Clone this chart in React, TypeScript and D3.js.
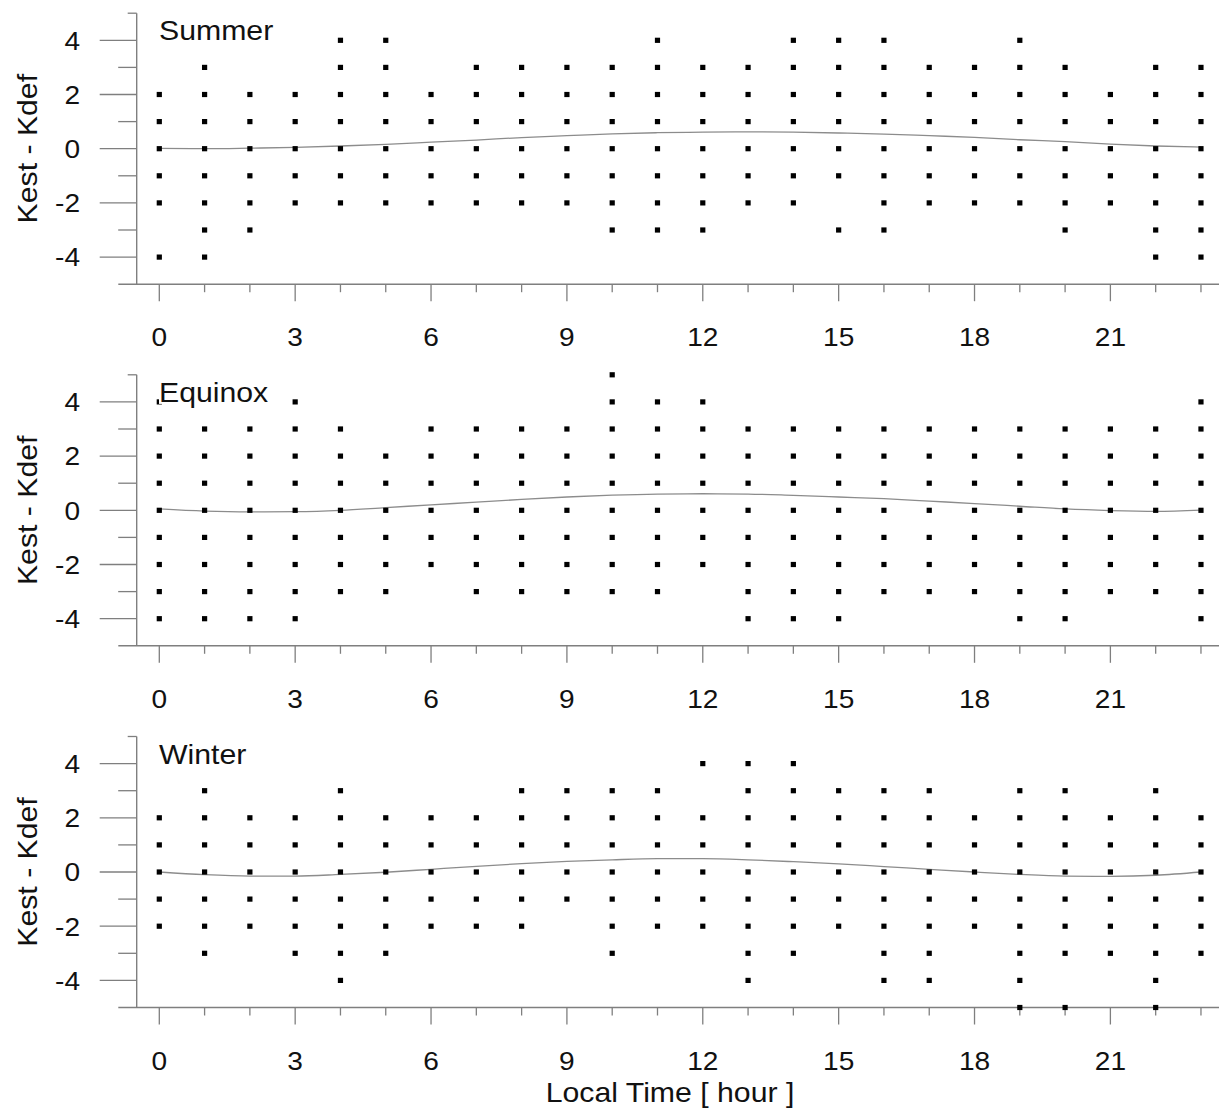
import React from "react";
import * as d3 from "d3";

// Hour-of-day categories and tick labels
const HOURS = [0, 1, 2, 3, 4, 5, 6, 7, 8, 9, 10, 11, 12, 13, 14, 15, 16, 17, 18, 19, 20, 21, 22, 23];
const X_TICK_LABELS = [0, 3, 6, 9, 12, 15, 18, 21];
const Y_TICK_LABELS = [-4, -2, 0, 2, 4];
const Y_MINOR_TICKS = [-5, -4, -3, -2, -1, 0, 1, 2, 3, 4, 5];

// Observed Kest - Kdef values for each hour (index = hour)
const summerDots: number[][] = [
  [2, 1, 0, -1, -2, -4],
  [3, 2, 1, 0, -1, -2, -3, -4],
  [2, 1, 0, -1, -2, -3],
  [2, 1, 0, -1, -2],
  [4, 3, 2, 1, 0, -1, -2],
  [4, 3, 2, 1, 0, -1, -2],
  [2, 1, 0, -1, -2],
  [3, 2, 1, 0, -1, -2],
  [3, 2, 1, 0, -1, -2],
  [3, 2, 1, 0, -1, -2],
  [3, 2, 1, 0, -1, -2, -3],
  [4, 3, 2, 1, 0, -1, -2, -3],
  [3, 2, 1, 0, -1, -2, -3],
  [3, 2, 1, 0, -1, -2],
  [4, 3, 2, 1, 0, -1, -2],
  [4, 3, 2, 1, 0, -1, -3],
  [4, 3, 2, 1, 0, -1, -2, -3],
  [3, 2, 1, 0, -1, -2],
  [3, 2, 1, 0, -1, -2],
  [4, 3, 2, 1, 0, -1, -2],
  [3, 2, 1, 0, -1, -2, -3],
  [2, 1, 0, -1, -2],
  [3, 2, 1, 0, -1, -2, -3, -4],
  [3, 2, 1, 0, -1, -2, -3, -4],
];

const equinoxDots: number[][] = [
  [4, 3, 2, 1, 0, -1, -2, -3, -4],
  [3, 2, 1, 0, -1, -2, -3, -4],
  [3, 2, 1, 0, -1, -2, -3, -4],
  [4, 3, 2, 1, 0, -1, -2, -3, -4],
  [3, 2, 1, 0, -1, -2, -3],
  [2, 1, 0, -1, -2, -3],
  [3, 2, 1, 0, -1, -2],
  [3, 2, 1, 0, -1, -2, -3],
  [3, 2, 1, 0, -1, -2, -3],
  [3, 2, 1, 0, -1, -2, -3],
  [5, 4, 3, 2, 1, 0, -1, -2, -3],
  [4, 3, 2, 1, 0, -1, -2, -3],
  [4, 3, 2, 1, 0, -1, -2],
  [3, 2, 1, 0, -1, -2, -3, -4],
  [3, 2, 1, 0, -1, -2, -3, -4],
  [3, 2, 1, 0, -1, -2, -3, -4],
  [3, 2, 1, 0, -1, -2, -3],
  [3, 2, 1, 0, -1, -2, -3],
  [3, 2, 1, 0, -1, -2, -3],
  [3, 2, 1, 0, -1, -2, -3, -4],
  [3, 2, 1, 0, -1, -2, -3, -4],
  [3, 2, 1, 0, -1, -2, -3],
  [3, 2, 1, 0, -1, -2, -3],
  [4, 3, 2, 1, 0, -1, -2, -3, -4],
];

const winterDots: number[][] = [
  [2, 1, 0, -1, -2],
  [3, 2, 1, 0, -1, -2, -3],
  [2, 1, 0, -1, -2],
  [2, 1, 0, -1, -2, -3],
  [3, 2, 1, 0, -1, -2, -3, -4],
  [2, 1, 0, -1, -2, -3],
  [2, 1, 0, -1, -2],
  [2, 1, 0, -1, -2],
  [3, 2, 1, 0, -1, -2],
  [3, 2, 1, 0, -1],
  [3, 2, 1, 0, -1, -2, -3],
  [3, 2, 1, 0, -1, -2],
  [4, 2, 1, 0, -1, -2],
  [4, 3, 2, 1, 0, -1, -2, -3, -4],
  [4, 3, 2, 1, 0, -1, -2, -3],
  [3, 2, 1, 0, -1, -2],
  [3, 2, 1, 0, -1, -2, -3, -4],
  [3, 2, 1, 0, -1, -2, -3, -4],
  [2, 1, 0, -1, -2],
  [3, 2, 1, 0, -1, -2, -3, -4, -5],
  [3, 2, 1, 0, -1, -2, -3, -5],
  [2, 1, 0, -1, -2, -3],
  [3, 2, 1, 0, -1, -2, -3, -4, -5],
  [2, 1, 0, -1, -2, -3],
];

// Fitted diurnal curve, value per hour
const summerFit = [0.01, 0.0, 0.02, 0.05, 0.1, 0.16, 0.24, 0.32, 0.41, 0.48, 0.55, 0.59, 0.61, 0.62, 0.61, 0.58, 0.54, 0.48, 0.42, 0.33, 0.26, 0.17, 0.1, 0.06];
const equinoxFit = [0.05, -0.03, -0.06, -0.05, 0.0, 0.1, 0.2, 0.3, 0.4, 0.49, 0.56, 0.6, 0.61, 0.6, 0.55, 0.49, 0.43, 0.34, 0.25, 0.15, 0.05, -0.01, -0.04, 0.01];
const winterFit = [0.0, -0.1, -0.15, -0.15, -0.09, -0.01, 0.1, 0.21, 0.31, 0.39, 0.45, 0.49, 0.49, 0.45, 0.38, 0.3, 0.2, 0.1, 0.0, -0.09, -0.15, -0.16, -0.12, 0.0];

const SEASONS = ["Summer", "Equinox", "Winter"];
const DOTS = [summerDots, equinoxDots, winterDots];
const FITS = [summerFit, equinoxFit, winterFit];

const WIDTH = 1219;
const HEIGHT = 1111;
const FONT = "Arial, 'Liberation Sans', Helvetica, sans-serif";
const AXIS_COLOR = "#7f7f7f";
const TEXT_COLOR = "#111";
const STRETCH = 1.08; // glyphs are set slightly wide
const ZERO_Y = [148.7, 510.3, 872];
const HALF_SPAN = 135.5;
const Y_AXIS_X = 136.7;
const AXIS_LEFT = 118.3;

const x = d3.scaleLinear().domain([0, 23]).range([159.3, 159.3 + 23 * 45.29]);

type LabelProps = {
  x: number;
  y: number;
  size: number;
  anchor?: "start" | "middle" | "end";
  rotate?: number;
  dy?: string;
  children: React.ReactNode;
};

function Label({ x: lx, y: ly, size, anchor = "start", rotate = 0, dy, children }: LabelProps) {
  return (
    <g transform={`translate(${lx},${ly}) rotate(${rotate}) scale(${STRETCH},1)`}>
      <text x={0} y={0} dy={dy} textAnchor={anchor} fontFamily={FONT} fontSize={size} fill={TEXT_COLOR}>
        {children}
      </text>
    </g>
  );
}

function Panel({ index }: { index: number }) {
  const y0 = ZERO_Y[index];
  const y = d3.scaleLinear().domain([-5, 5]).range([y0 + HALF_SPAN, y0 - HALF_SPAN]);
  const bottom = y(-5);
  const dots = DOTS[index];
  const fit = FITS[index];
  const line = d3
    .line<number>()
    .x((_, i) => x(HOURS[i]))
    .y((d) => y(d))
    .curve(d3.curveMonotoneX);
  const ds = 5.2;
  const titleBaseline = y(4);
  return (
    <g>
      {/* x axis */}
      <line x1={AXIS_LEFT} x2={WIDTH} y1={bottom} y2={bottom} stroke={AXIS_COLOR} strokeWidth={1.4} />
      {HOURS.map((h) => {
        const major = h % 3 === 0;
        return (
          <line
            key={"xt" + h}
            x1={x(h)}
            x2={x(h)}
            y1={bottom}
            y2={bottom + (major ? 17 : 8)}
            stroke={AXIS_COLOR}
            strokeWidth={1.3}
          />
        );
      })}
      {X_TICK_LABELS.map((h) => (
        <Label key={"xl" + h} x={x(h)} y={bottom + 62} size={26} anchor="middle">
          {h}
        </Label>
      ))}
      {/* y axis */}
      <line x1={Y_AXIS_X} x2={Y_AXIS_X} y1={y(5)} y2={bottom} stroke={AXIS_COLOR} strokeWidth={1.4} />
      {Y_MINOR_TICKS.filter((v) => v > -5).map((v) => {
        const len = v === 5 ? 9 : v % 2 === 0 ? 37 : 18.5;
        return (
          <line
            key={"yt" + v}
            x1={Y_AXIS_X - len}
            x2={Y_AXIS_X}
            y1={y(v)}
            y2={y(v)}
            stroke={AXIS_COLOR}
            strokeWidth={1.3}
          />
        );
      })}
      {Y_TICK_LABELS.map((v) => (
        <Label key={"yl" + v} x={80} y={y(v)} dy="0.36em" size={26} anchor="end">
          {v}
        </Label>
      ))}
      <Label x={37} y={y0} size={28} anchor="middle" rotate={-90}>
        Kest - Kdef
      </Label>
      {/* fitted curve */}
      <path d={line(fit) || ""} fill="none" stroke="#8c8c8c" strokeWidth={1.3} />
      {/* observations */}
      {dots.map((vals, h) =>
        vals.map((v) => (
          <rect key={`d${h}_${v}`} x={x(h) - ds / 2} y={y(v) - ds / 2} width={ds} height={ds} fill="#000" />
        ))
      )}
      {/* season label */}
      <rect x={159} y={titleBaseline - 24} width={118} height={26} fill="#fff" />
      <Label x={159} y={titleBaseline} size={28}>
        {SEASONS[index]}
      </Label>
    </g>
  );
}

export default function App() {
  return (
    <svg
      width={WIDTH}
      height={HEIGHT}
      viewBox={`0 0 ${WIDTH} ${HEIGHT}`}
      style={{ position: "absolute", left: 0, top: 0, background: "#fff" }}
    >
      <rect width={WIDTH} height={HEIGHT} fill="#fff" />
      {SEASONS.map((_, i) => (
        <Panel key={i} index={i} />
      ))}
      <Label x={670} y={1101.5} size={28} anchor="middle">
        Local Time [ hour ]
      </Label>
    </svg>
  );
}
